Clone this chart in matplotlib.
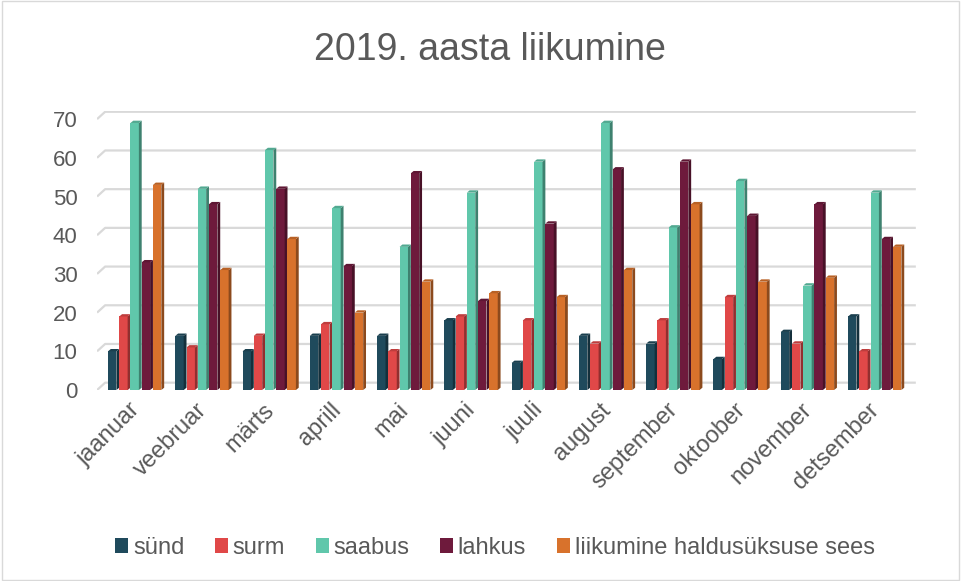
import matplotlib.pyplot as plt
import matplotlib.patches as patches
from matplotlib.colors import to_rgb
import numpy as np

plt.rcParams['font.family'] = ['Liberation Sans', 'DejaVu Sans']

months = ['jaanuar', 'veebruar', 'märts', 'aprill', 'mai', 'juuni',
          'juuli', 'august', 'september', 'oktoober', 'november', 'detsember']
series_names = ['sünd', 'surm', 'saabus', 'lahkus', 'liikumine haldusüksuse sees']
synd = [10, 14, 10, 14, 14, 18, 7, 14, 12, 8, 15, 19]
surm = [19, 11, 14, 17, 10, 19, 18, 12, 18, 24, 12, 10]
saabus = [69, 52, 62, 47, 37, 51, 59, 69, 42, 54, 27, 51]
lahkus = [33, 48, 52, 32, 56, 23, 43, 57, 59, 45, 48, 39]
liikumine = [53, 31, 39, 20, 28, 25, 24, 31, 48, 28, 29, 37]
colors = ['#1f4a5c', '#e04848', '#60c7ab', '#6e1a3c', '#d8722c']
yticks = list(range(0, 71, 10))

text_color = '#595959'
grid_color = '#d9d9d9'


def darker(c, f=0.65):
    r, g, b = to_rgb(c)
    return (r * f, g * f, b * f)


fig = plt.figure(figsize=(9.61, 5.81), dpi=100)
fig.patches.append(patches.Rectangle((0.002, 0.002), 0.996, 0.996,
                                     transform=fig.transFigure, fill=False,
                                     edgecolor=grid_color, linewidth=1))
ax = fig.add_axes([0.101, 0.3287, 0.852, 0.4796])

x = np.arange(len(months))
w = 0.125
depth = 0.042
rise = 0.6
values = [synd, surm, saabus, lahkus, liikumine]

xl, xr = -0.58, 11.59
# back-wall gridlines, shifted up/right like the 3D original
back = 1.9
for v in yticks:
    ax.plot([xl, xl + 0.12, xr], [v, v + back, v + back], color=grid_color,
            linewidth=1.6, zorder=1, solid_capstyle='butt')

for k, (vals, col) in enumerate(zip(values, colors)):
    pos = x + (k - 2) * (w + depth) - depth / 2
    ax.bar(pos, vals, width=w, color=col, label=series_names[k], zorder=3)
    # side and top faces for a faux 3D look
    for p, v in zip(pos, vals):
        right = p + w / 2
        side = patches.Polygon([(right, 0), (right + depth, rise),
                                (right + depth, v + rise), (right, v)],
                               closed=True, facecolor=darker(col), zorder=3)
        ax.add_patch(side)
        top = patches.Polygon([(right - w, v), (right - w + depth, v + rise),
                               (right + depth, v + rise), (right, v)],
                              closed=True, facecolor=darker(col, 0.85), zorder=3)
        ax.add_patch(top)

ax.set_xlim(xl, xr)
ax.set_ylim(0, 72)
ax.set_yticks(yticks)
ax.set_xticks(x)
ax.set_xticklabels(months, rotation=45, ha='right', va='center',
                   rotation_mode='anchor')
ax.tick_params(axis='both', length=0, colors=text_color)
ax.tick_params(axis='x', labelsize=17, pad=12)
ax.tick_params(axis='y', labelsize=16, pad=14)
for s in ax.spines.values():
    s.set_visible(False)

fig.text(0.51, 0.914, '2019. aasta liikumine', ha='center', va='center',
         fontsize=27, color=text_color)

fig.legend(loc='center', bbox_to_anchor=(0.515, 0.057), ncol=5, frameon=False,
           fontsize=17, handlelength=0.55, handleheight=0.55, handletextpad=0.2,
           columnspacing=1.3, labelcolor=text_color)

fig.savefig('out.png', dpi=100)
